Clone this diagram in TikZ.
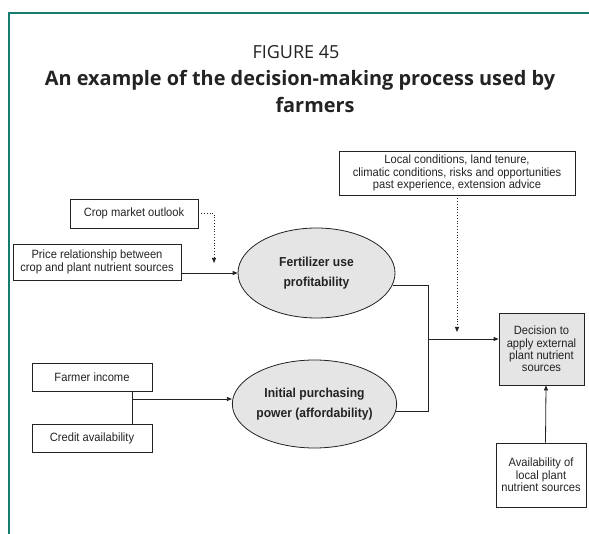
\documentclass[tikz,border=0pt]{standalone}
\usepackage{fontspec}
\setmainfont{Liberation Sans}
\newfontfamily\narrowfont[FakeStretch=0.93]{Liberation Sans}
\newfontfamily\titlefont{Open Sans}
\usetikzlibrary{arrows.meta,positioning,shapes.geometric}
\definecolor{framecol}{RGB}{20,125,110}
\definecolor{ink}{RGB}{35,35,35}
\definecolor{shade}{RGB}{229,229,229}

\begin{document}
\begin{tikzpicture}[
  x=1pt, y=-1pt,
  box/.style={draw=ink, line width=0.8pt, align=center, inner sep=1pt, text=ink,
    font=\narrowfont\fontsize{12}{12.3}\selectfont},
  oval/.style={ellipse, draw=ink, line width=0.8pt, fill=shade, inner sep=0pt, align=center, text=ink,
    font=\narrowfont\bfseries\fontsize{13}{20.5}\selectfont},
  arr/.style={-{Triangle[length=5pt,width=4pt]}, line width=0.8pt, draw=ink},
  dotarr/.style={arr, dash pattern=on 0.8pt off 2pt},
  link/.style={line width=0.8pt, draw=ink}
]
  \useasboundingbox (0,0) rectangle (589,534);
  \draw[framecol, line width=2pt] (9,534) -- (9,13) -- (589,13);

  % heading
  \node[font=\titlefont\fontsize{18}{20}\selectfont, text=ink] (fig) at (296,52) {FIGURE 45};
  \node[font=\titlefont\bfseries\fontsize{19.9}{24}\selectfont, text=ink] (title) at (300,80)
    {An example of the decision-making process used by};
  \node[font=\titlefont\bfseries\fontsize{19.9}{24}\selectfont, text=ink] (title2) at (315,105) {farmers};

  % boxes
  \node[box, minimum width=128pt, minimum height=29pt] (crop) at (134,213.5) {Crop market outlook};
  \node[box, minimum width=168pt, minimum height=36pt] (price) at (97,262)
    {Price relationship between\\crop and plant nutrient sources};
  \node[box, minimum width=236pt, minimum height=44pt] (local) at (457,173)
    {Local conditions, land tenure,\\climatic conditions, risks and opportunities\\past experience, extension advice};
  \node[box, minimum width=120pt, minimum height=28pt] (income) at (92,377) {Farmer income};
  \node[box, minimum width=120pt, minimum height=28pt] (credit) at (92,438) {Credit availability};
  \node[box, fill=shade, minimum width=85pt, minimum height=72pt] (decision) at (541.5,349)
    {Decision to\\apply external\\plant nutrient\\sources};
  \node[box, minimum width=90pt, minimum height=64pt] (avail) at (541,475)
    {Availability of\\local plant\\nutrient sources};

  % ellipses
  \node[oval, minimum width=157pt, minimum height=90pt] (prof) at (316.5,273) {Fertilizer use\\profitability};
  \node[oval, minimum width=153pt, minimum height=88pt] (afford) at (314.5,404)
    {Initial purchasing\\power (affordability)};

  % helper points
  \coordinate (cropend) at (214,263);
  \coordinate (localend) at (457,332);
  \coordinate (jx) at (428,339);
  \coordinate (fx) at (132,399);

  % connectors
  \draw[dotarr] (crop.east) -| (cropend);
  \draw[arr] (price.east |- prof.west) -- (prof.west);
  \draw[dotarr] (local.south) -- (localend);
  \draw[link] (prof.-9) -- (prof.-9 -| jx) -- (afford.-5 -| jx) -- (afford.-5);
  \draw[arr] (jx) -- (decision.west |- jx);
  \draw[link] (income.south -| fx) -- (credit.north -| fx);
  \draw[arr] (fx) -- (afford.west |- fx);
  \draw[arr] ([xshift=4.5pt]avail.north) -- ([xshift=4.5pt]decision.south);
\end{tikzpicture}
\end{document}
